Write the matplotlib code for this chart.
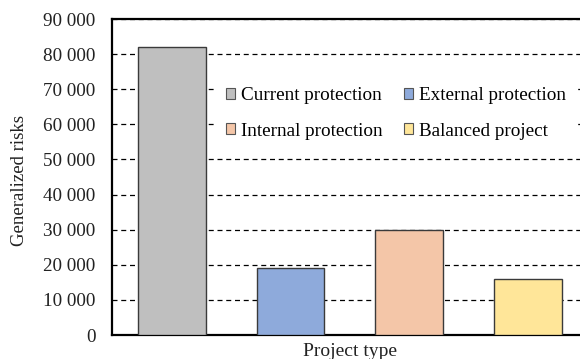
import matplotlib
matplotlib.use("Agg")
import matplotlib.pyplot as plt
from matplotlib.ticker import FuncFormatter
from matplotlib.patches import Patch

projects = ["Current protection", "External protection", "Internal protection", "Balanced project"]
risks = [82000, 19000, 30000, 16000]
colors = ["#bfbfbf", "#8eaadb", "#f4c6a8", "#ffe699"]
yticks = list(range(0, 90001, 10000))

plt.rcParams["font.family"] = ["Liberation Serif", "DejaVu Serif"]

W, H = 580, 359
fig = plt.figure(figsize=(W / 100, H / 100), dpi=100)
ax = fig.add_axes([112 / W, (H - 335) / H, (W - 112) / W, (335 - 19) / H])

x = list(range(len(projects)))
ax.bar(x, risks, width=0.57, color=colors, edgecolor="#3a3a3a", linewidth=1.0, zorder=3)

ax.set_xlim(-0.505, 3.44)
ax.set_ylim(0, 90000)
ax.set_yticks(yticks)
ax.yaxis.set_major_formatter(FuncFormatter(lambda v, p: f"{int(v):,}".replace(",", " ")))
ax.set_xticks([])
ax.tick_params(axis="y", length=0, pad=12, labelsize=13.8, labelcolor="#222222")

ax.grid(axis="y", color="black", linestyle=(0, (4, 3)), linewidth=0.9, zorder=0)

for s in ["left", "bottom", "top"]:
    ax.spines[s].set_linewidth(1.6)
    ax.spines[s].set_color("black")
ax.spines["right"].set_visible(False)

fig.text(350 / W, 1 - 351 / H, "Project type", fontsize=14, ha="center", va="center",
         color="#222222")
fig.text(20 / W, 1 - 180 / H, "Generalized risks", rotation=90, fontsize=13.5,
         ha="center", va="center", color="#222222")

# legend order: column-wise fill gives Current/External on row 1, Internal/Balanced on row 2
order = [0, 2, 1, 3]
handles = [Patch(facecolor=colors[i], edgecolor="#555555", linewidth=0.8) for i in order]
labels = [projects[i] for i in order]
leg = ax.legend(handles, labels, ncol=2, loc="upper left",
                bbox_to_anchor=(214 / W, 1 - 76 / H), bbox_transform=fig.transFigure,
                fontsize=13.8, frameon=True, fancybox=False, framealpha=1,
                edgecolor="white", borderpad=0.6, handlelength=0.5, handleheight=0.5,
                handletextpad=0.3, columnspacing=1.1, labelspacing=0.95, borderaxespad=0)
leg.set_zorder(5)

fig.savefig("out.png", dpi=100)
